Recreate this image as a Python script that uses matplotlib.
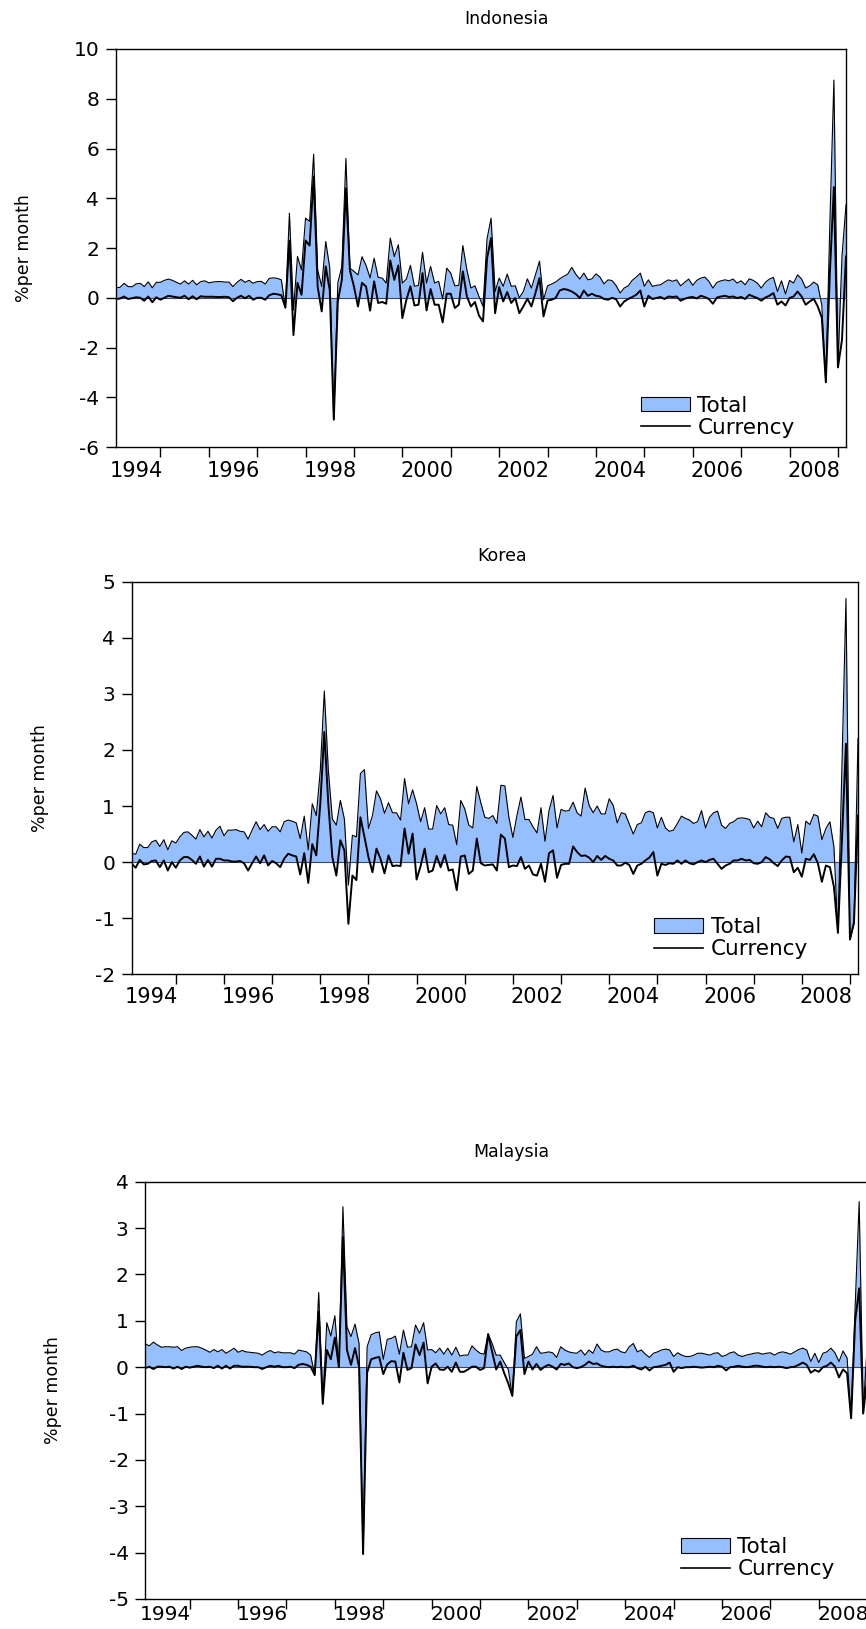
import numpy as np
import matplotlib
matplotlib.use("Agg")
import matplotlib.pyplot as plt
from matplotlib.patches import Patch
from matplotlib.lines import Line2D

plt.rcParams['font.family'] = ['DejaVu Sans']
plt.rcParams['axes.unicode_minus'] = False

# monthly observations, 1994M1 onwards
idn_total = [
    0.40, 0.42, 0.58, 0.45, 0.44, 0.56, 0.58, 0.45, 0.64, 0.40, 0.62, 0.62,
    0.70, 0.75, 0.70, 0.62, 0.55, 0.68, 0.55, 0.70, 0.52, 0.65, 0.68, 0.60,
    0.63, 0.65, 0.65, 0.63, 0.63, 0.45, 0.62, 0.74, 0.62, 0.70, 0.58, 0.65,
    0.66, 0.55, 0.78, 0.80, 0.78, 0.72, -0.40, 3.40, -0.50, 1.66, 1.12, 3.20,
    3.07, 5.77, 1.12, 0.45, 2.26, 1.20, -4.90, 0.60, 1.26, 5.60, 1.19, 1.06,
    0.92, 1.65, 1.30, 0.80, 1.59, 0.82, 0.79, 0.59, 2.40, 1.66, 2.13, 0.59,
    0.75, 1.30, 0.46, 0.50, 1.83, 0.59, 1.26, 0.59, 0.66, -0.05, 1.19, 0.99,
    0.48, 0.50, 2.10, 1.12, 0.39, 0.48, 0.05, -0.35, 2.37, 3.20, 0.25, 0.79,
    0.46, 0.95, 0.46, 0.48, 0.00, 0.25, 0.76, 0.39, 0.92, 1.47, -0.08, 0.48,
    0.55, 0.63, 0.76, 0.86, 0.95, 1.22, 0.95, 0.75, 0.99, 0.72, 0.76, 0.96,
    0.83, 0.56, 0.72, 0.69, 0.49, 0.19, 0.39, 0.48, 0.70, 0.83, 0.99, 0.46,
    0.72, 0.46, 0.50, 0.52, 0.63, 0.72, 0.66, 0.72, 0.48, 0.62, 0.75, 0.50,
    0.70, 0.79, 0.83, 0.66, 0.39, 0.62, 0.68, 0.72, 0.68, 0.75, 0.59, 0.68,
    0.52, 0.76, 0.70, 0.59, 0.39, 0.62, 0.75, 0.82, 0.25, 0.68, 0.15, 0.70,
    0.59, 0.92, 0.75, 0.39, 0.48, 0.63, 0.52, -0.30, -3.40, 3.00, 8.75, -2.80,
    1.66, 3.73]
idn_currency = [
    -0.05, -0.03, 0.05, -0.05, -0.02, 0.02, 0.00, -0.12, 0.05, -0.18, 0.02, -0.08,
    0.00, 0.08, 0.05, 0.02, 0.00, 0.08, -0.06, 0.06, -0.06, 0.06, 0.04, 0.04,
    0.04, 0.03, 0.03, 0.04, 0.02, -0.14, 0.00, 0.08, -0.02, 0.08, -0.08, 0.00,
    0.00, -0.08, 0.10, 0.16, 0.14, 0.10, -0.40, 2.30, -1.50, 0.60, 0.12, 2.30,
    2.10, 4.87, 0.45, -0.55, 1.26, 0.30, -4.90, -0.15, 0.72, 4.40, 1.10, 0.45,
    -0.35, 0.60, 0.45, -0.52, 0.66, -0.21, -0.17, -0.24, 1.50, 0.72, 1.30, -0.82,
    -0.08, 0.46, -0.31, -0.28, 0.99, -0.51, 0.35, -0.28, -0.28, -0.99, 0.16, 0.16,
    -0.41, -0.28, 1.06, 0.05, -0.35, -0.17, -0.72, -0.95, 1.59, 2.40, -0.62, 0.43,
    -0.15, 0.23, -0.21, -0.01, -0.62, -0.35, -0.04, -0.35, 0.19, 0.79, -0.75, -0.11,
    -0.08, -0.01, 0.29, 0.35, 0.32, 0.25, 0.15, -0.01, 0.29, 0.08, 0.16, 0.08,
    0.05, -0.05, -0.08, 0.00, -0.06, -0.35, -0.15, -0.05, 0.03, 0.12, 0.29, -0.35,
    0.08, -0.05, -0.01, 0.03, -0.05, 0.05, 0.03, 0.05, -0.12, -0.04, 0.01, 0.03,
    -0.03, 0.08, 0.03, -0.05, -0.24, 0.01, 0.05, 0.08, 0.03, 0.05, -0.01, 0.03,
    -0.05, 0.12, 0.05, -0.01, -0.12, 0.01, 0.08, 0.19, -0.28, -0.15, -0.31, -0.01,
    0.05, 0.25, 0.05, -0.28, -0.15, -0.04, -0.35, -0.80, -3.40, 1.00, 4.45, -2.80,
    -1.70, 1.66]

kor_total = [
    0.16, 0.14, 0.32, 0.26, 0.26, 0.36, 0.39, 0.28, 0.40, 0.22, 0.38, 0.34,
    0.45, 0.53, 0.54, 0.48, 0.41, 0.58, 0.45, 0.55, 0.43, 0.57, 0.64, 0.47,
    0.57, 0.57, 0.58, 0.55, 0.54, 0.41, 0.57, 0.72, 0.58, 0.67, 0.55, 0.63,
    0.63, 0.54, 0.72, 0.75, 0.73, 0.70, 0.42, 0.82, 0.22, 1.04, 0.83, 1.64,
    3.05, 1.64, 0.77, 0.66, 1.10, 0.77, -0.41, 0.48, 0.45, 1.58, 1.65, 0.60,
    0.83, 1.27, 1.13, 0.87, 1.06, 0.88, 0.88, 0.75, 1.49, 1.04, 1.29, 1.04,
    0.72, 0.97, 0.59, 0.59, 1.01, 0.86, 0.97, 0.67, 0.66, 0.31, 1.10, 0.95,
    0.66, 0.61, 1.35, 1.06, 0.80, 0.78, 0.83, 0.69, 1.37, 1.36, 0.80, 0.44,
    0.83, 1.16, 0.76, 0.76, 0.63, 0.52, 0.97, 0.37, 0.92, 1.19, 0.61, 0.94,
    0.91, 0.92, 1.07, 0.88, 0.82, 1.32, 1.01, 0.88, 1.00, 0.86, 0.86, 1.13,
    1.01, 0.70, 0.88, 0.86, 0.68, 0.50, 0.67, 0.70, 0.88, 0.91, 0.88, 0.61,
    0.80, 0.61, 0.55, 0.57, 0.69, 0.82, 0.78, 0.75, 0.69, 0.72, 0.92, 0.61,
    0.80, 0.88, 0.91, 0.66, 0.60, 0.69, 0.72, 0.78, 0.79, 0.78, 0.76, 0.61,
    0.73, 0.63, 0.88, 0.80, 0.78, 0.60, 0.78, 0.80, 0.80, 0.36, 0.67, 0.16,
    0.73, 0.67, 0.85, 0.82, 0.40, 0.60, 0.72, 0.27, -1.26, 1.70, 4.70, -1.38,
    -1.10, 2.20]
kor_currency = [
    -0.03, -0.10, 0.04, -0.04, -0.03, 0.02, 0.03, -0.09, 0.03, -0.15, 0.00, -0.10,
    0.03, 0.09, 0.09, 0.04, -0.03, 0.10, -0.08, 0.04, -0.08, 0.06, 0.06, 0.03,
    0.03, 0.01, 0.01, 0.02, -0.02, -0.15, -0.02, 0.10, -0.02, 0.12, -0.06, 0.02,
    -0.02, -0.09, 0.06, 0.15, 0.12, 0.10, -0.22, 0.16, -0.37, 0.32, 0.12, 1.04,
    2.32, 1.04, 0.09, -0.24, 0.39, 0.21, -1.10, -0.24, -0.32, 0.80, 0.45, 0.09,
    -0.18, 0.24, 0.06, -0.20, 0.12, -0.07, -0.06, -0.07, 0.60, 0.15, 0.51, -0.31,
    -0.07, 0.24, -0.18, -0.15, 0.11, -0.09, 0.13, -0.15, -0.13, -0.50, 0.10, 0.12,
    -0.21, -0.15, 0.42, -0.02, -0.06, -0.05, -0.04, -0.15, 0.49, 0.42, -0.09, -0.06,
    -0.07, 0.09, -0.12, -0.06, -0.22, -0.24, -0.03, -0.35, 0.16, 0.21, -0.28, -0.05,
    -0.03, -0.03, 0.28, 0.18, 0.11, 0.12, 0.08, 0.00, 0.11, 0.04, 0.11, 0.06,
    0.03, -0.06, -0.06, -0.01, -0.05, -0.21, -0.06, -0.03, 0.03, 0.08, 0.18, -0.24,
    -0.03, -0.05, -0.02, -0.03, 0.03, -0.03, 0.03, -0.02, -0.04, 0.00, 0.03, 0.00,
    0.04, 0.06, -0.03, -0.12, -0.06, -0.03, 0.03, 0.03, 0.06, 0.03, 0.04, -0.02,
    -0.03, 0.00, 0.09, 0.05, -0.02, -0.07, 0.03, 0.10, 0.09, -0.18, -0.10, -0.26,
    0.06, 0.04, 0.14, -0.02, -0.35, -0.06, -0.09, -0.44, -1.26, 0.40, 2.11, -1.38,
    -1.07, 0.83]

mys_total = [
    0.50, 0.46, 0.54, 0.48, 0.43, 0.44, 0.44, 0.43, 0.44, 0.36, 0.41, 0.43,
    0.44, 0.44, 0.41, 0.37, 0.32, 0.38, 0.33, 0.38, 0.30, 0.35, 0.41, 0.32,
    0.36, 0.33, 0.32, 0.31, 0.30, 0.26, 0.32, 0.36, 0.31, 0.33, 0.31, 0.31,
    0.31, 0.28, 0.37, 0.35, 0.33, 0.26, -0.17, 1.61, -0.79, 0.96, 0.67, 1.11,
    0.00, 3.46, 0.87, 0.66, 0.93, 0.51, -4.03, 0.44, 0.70, 0.74, 0.76, 0.17,
    0.60, 0.62, 0.67, 0.28, 0.80, 0.43, 0.44, 0.91, 0.73, 0.96, 0.37, 0.38,
    0.31, 0.41, 0.28, 0.41, 0.26, 0.43, 0.24, 0.26, 0.26, 0.46, 0.37, 0.30,
    0.28, 0.72, 0.51, 0.26, 0.26, 0.10, -0.05, -0.62, 0.98, 1.15, 0.19, 0.23,
    0.28, 0.44, 0.30, 0.31, 0.33, 0.31, 0.21, 0.44, 0.37, 0.33, 0.31, 0.30,
    0.37, 0.26, 0.37, 0.30, 0.50, 0.37, 0.33, 0.33, 0.37, 0.39, 0.33, 0.31,
    0.44, 0.51, 0.33, 0.37, 0.28, 0.21, 0.30, 0.33, 0.37, 0.39, 0.37, 0.23,
    0.31, 0.26, 0.23, 0.23, 0.26, 0.30, 0.30, 0.28, 0.26, 0.30, 0.31, 0.23,
    0.26, 0.31, 0.33, 0.26, 0.23, 0.26, 0.28, 0.30, 0.31, 0.28, 0.30, 0.31,
    0.26, 0.31, 0.33, 0.31, 0.28, 0.33, 0.38, 0.41, 0.37, 0.12, 0.30, 0.10,
    0.30, 0.33, 0.41, 0.31, 0.12, 0.35, 0.20, -1.10, 1.30, 3.57, -1.00, 0.50,
    1.00, 0.60]
mys_currency = [
    -0.02, 0.01, -0.04, 0.01, 0.01, 0.00, 0.01, -0.03, 0.01, -0.04, 0.01, -0.01,
    0.01, 0.03, 0.01, 0.00, 0.01, -0.02, 0.03, -0.03, 0.03, -0.03, 0.03, 0.03,
    0.01, 0.01, 0.01, 0.00, 0.00, -0.04, 0.00, 0.03, 0.01, 0.03, 0.00, 0.00,
    0.01, -0.02, 0.05, 0.07, 0.05, 0.01, -0.17, 1.20, -0.79, 0.37, 0.17, 0.64,
    0.00, 2.81, 0.37, 0.05, 0.41, 0.01, -4.03, -0.12, 0.17, 0.20, 0.22, -0.15,
    0.06, 0.13, 0.12, -0.33, 0.31, -0.06, -0.02, 0.49, 0.26, 0.53, -0.35, 0.01,
    0.08, -0.05, -0.06, 0.01, -0.10, 0.10, -0.10, -0.10, -0.05, 0.01, 0.01, -0.06,
    -0.02, 0.71, 0.33, -0.05, 0.12, -0.13, -0.35, -0.62, 0.66, 0.80, -0.15, 0.12,
    -0.05, 0.07, -0.06, 0.01, 0.05, 0.01, -0.05, 0.07, 0.05, 0.08, 0.00, -0.02,
    0.00, 0.05, 0.12, 0.07, 0.08, 0.03, 0.01, 0.00, 0.01, 0.00, 0.01, 0.00,
    0.00, 0.03, -0.02, -0.05, 0.01, -0.07, 0.00, 0.01, 0.03, 0.05, 0.10, -0.10,
    0.00, -0.02, 0.00, 0.00, 0.01, 0.00, -0.01, 0.00, 0.01, 0.00, 0.03, 0.01,
    -0.07, 0.00, 0.01, 0.03, 0.01, 0.00, 0.01, 0.03, 0.03, 0.01, 0.00, 0.01,
    0.00, 0.01, 0.00, -0.02, 0.00, 0.01, 0.05, 0.10, 0.05, -0.12, -0.06, -0.10,
    0.00, 0.03, 0.10, 0.01, -0.22, -0.05, -0.13, -1.10, 1.00, 1.70, -1.00, -0.20,
    0.30, 0.10]

years = list(range(1994, 2009, 2))
fill_col = '#96BFFF'

W, H = 866, 1629
fig = plt.figure(figsize=(W / 100, H / 100), dpi=100)

# (title, total, currency, ylim, yticks, frame in px: left, top, right, bottom,
#  title pos px, legend anchor px, year label size / pad)
panels = [
    ('Indonesia', idn_total, idn_currency, (-6, 10), range(-6, 11, 2),
     (116, 49, 846, 447), (507, 19), (641, 395.5), (15, 10)),
    ('Korea', kor_total, kor_currency, (-2, 5), range(-2, 6),
     (131.7, 581.7, 858, 974.3), (502, 555.5), (654.3, 917), (15, 9)),
    ('Malaysia', mys_total, mys_currency, (-5, 4), range(-5, 5),
     (145.3, 1181.7, 875.3, 1599), (511, 1152), (681, 1536.8), (14.5, 4)),
]

for name, tot, cur, ylim, yt, (l, t, r, b), (tx, ty), (lx, ly), (xs, xp) in panels:
    ax = fig.add_axes([l / W, 1 - b / H, (r - l) / W, (b - t) / H])
    x = np.arange(len(tot))
    ax.fill_between(x, 0, tot, color=fill_col, lw=0)
    ax.axhline(0, color='#3c4660', lw=0.8)
    ax.plot(x, tot, color='black', lw=0.8)
    ax.plot(x, cur, color='black', lw=1.4)

    ax.set_xlim(0, len(tot) - 1)
    ax.set_ylim(*ylim)
    ax.set_yticks(list(yt))
    ax.set_xticks(np.arange(11, len(tot), 12))
    ax.set_xticklabels([])
    ax.set_xticks([5 + 12 * (y - 1994) for y in years], minor=True)
    ax.set_xticklabels([str(y) for y in years], minor=True)
    ax.tick_params(which='major', direction='out', length=7, width=1,
                   top=False, right=False, labelsize=14.5, pad=5)
    ax.tick_params(axis='x', which='minor', length=0, labelsize=xs, pad=xp)
    for s in ax.spines.values():
        s.set_linewidth(1)

    ax.set_ylabel('%per month', fontsize=12.5, labelpad=0)
    ax.yaxis.set_label_coords(-83 / (r - l), 0.5)

    fig.text(tx / W, 1 - ty / H, name, ha='center', va='center', fontsize=12.5)

    handles = [Patch(facecolor=fill_col, edgecolor='black', lw=0.8),
               Line2D([], [], color='black', lw=1.2)]
    ax.legend(handles, ['Total', 'Currency'], loc='upper left',
              bbox_to_anchor=((lx - l) / (r - l), (b - ly) / (b - t)),
              frameon=False, fontsize=15.5, borderpad=0, borderaxespad=0,
              labelspacing=0.1, handlelength=2.26, handleheight=0.67,
              handletextpad=0.36)

fig.savefig('out.png', dpi=100)
